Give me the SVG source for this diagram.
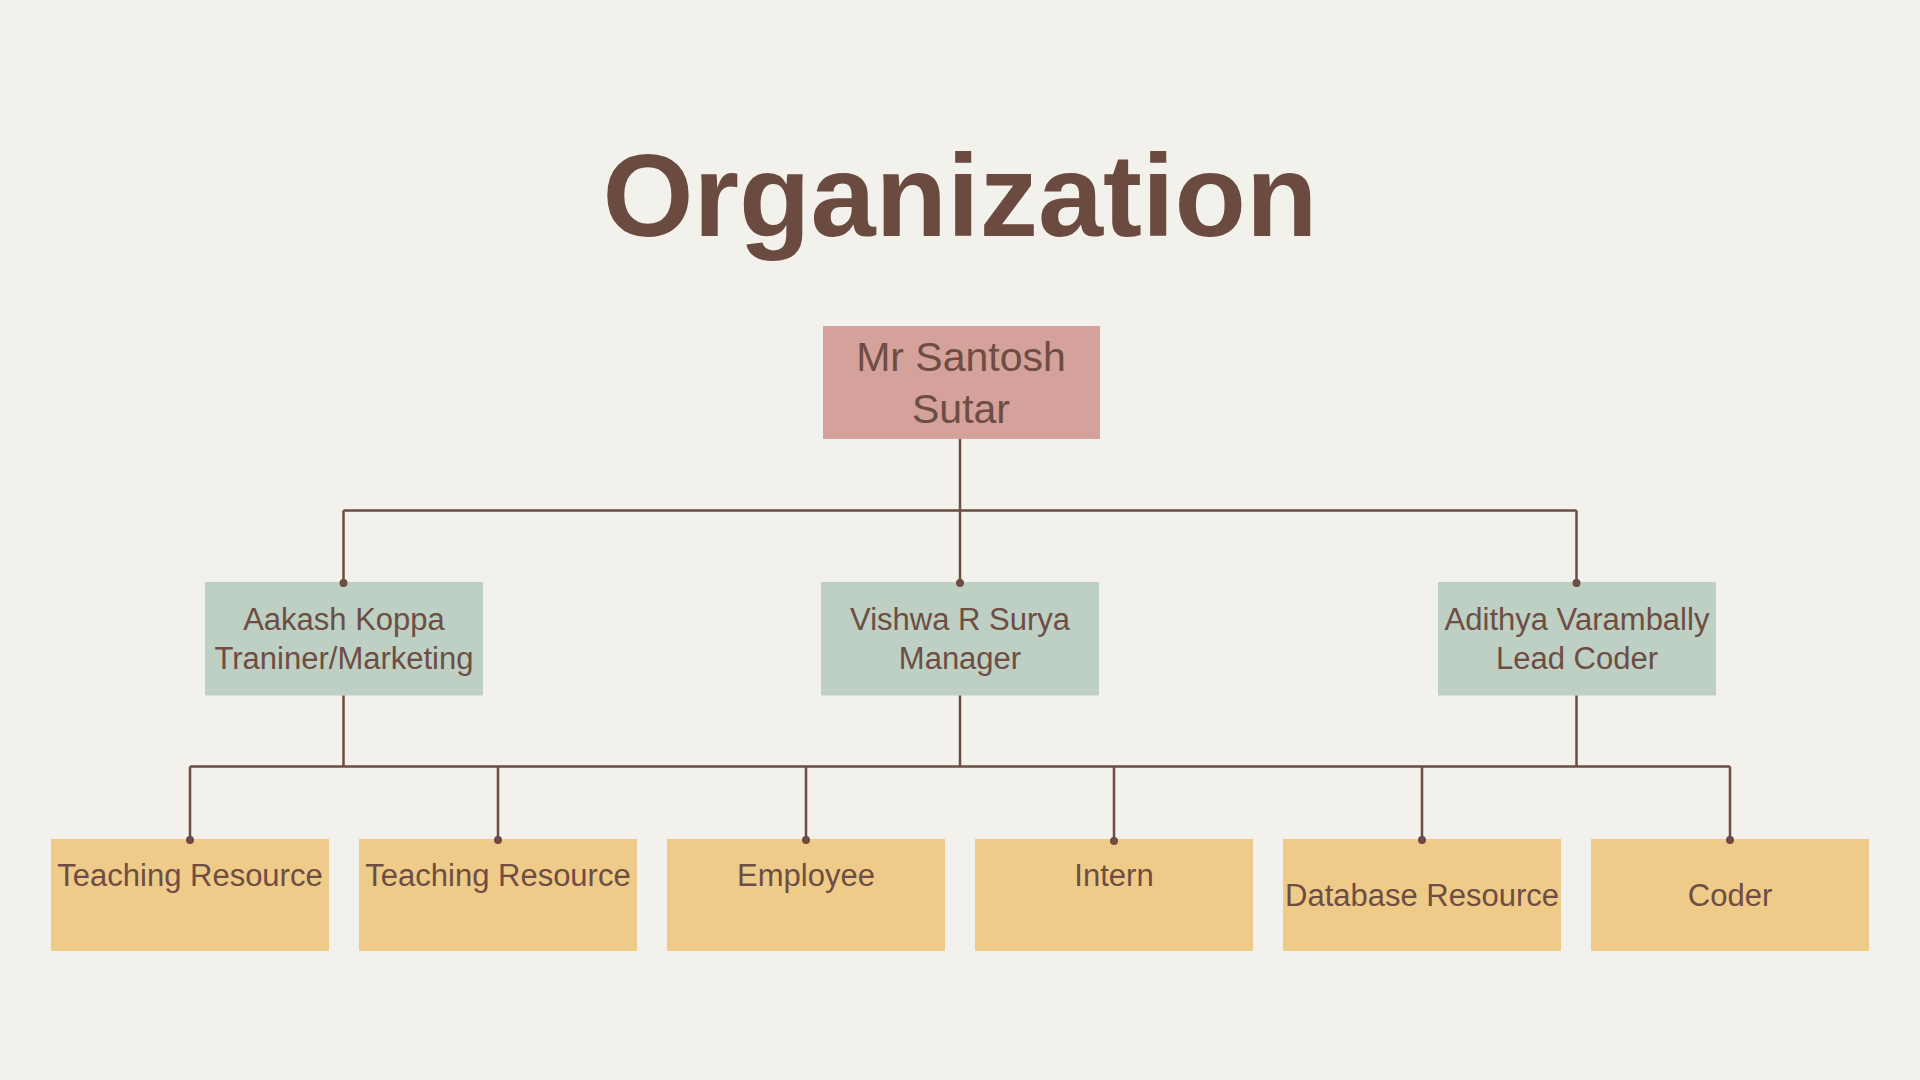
<svg xmlns="http://www.w3.org/2000/svg" width="1920" height="1080" viewBox="0 0 1920 1080">
  <defs>
    <style>
      .title { font-family: "Liberation Sans", Arial, sans-serif; font-weight: bold; font-size: 117px; fill: #6b4a40; }
      .lbl { font-family: "Liberation Sans", Arial, sans-serif; font-size: 31px; fill: #6e4d43; text-anchor: middle; }
      .lbl-top { font-family: "Liberation Sans", Arial, sans-serif; font-size: 41px; fill: #6e4d43; text-anchor: middle; }
      .top { fill: #d4a19b; }
      .mid { fill: #bdd0c3; }
      .bot { fill: #eecb89; }
      .conn { stroke: #6d4c41; stroke-width: 2.5; fill: none; }
      .dot { fill: #6d4c41; }
    </style>
  </defs>
  <rect width="1920" height="1080" fill="#f3f1ec"/>
  <text class="title" x="960" y="236" text-anchor="middle">Organization</text>

  <g id="santosh">
    <rect class="top" x="823" y="326" width="277" height="113"/>
    <text class="lbl-top" x="961" y="371">Mr Santosh</text>
    <text class="lbl-top" x="961" y="423">Sutar</text>
  </g>

  <g id="aakash">
    <rect class="mid" x="205" y="582" width="278" height="113.5"/>
    <text class="lbl" x="344" y="630">Aakash Koppa</text>
    <text class="lbl" x="344" y="669">Traniner/Marketing</text>
  </g>
  <g id="vishwa">
    <rect class="mid" x="821" y="582" width="278" height="113.5"/>
    <text class="lbl" x="960" y="630">Vishwa R Surya</text>
    <text class="lbl" x="960" y="669">Manager</text>
  </g>
  <g id="adithya">
    <rect class="mid" x="1438" y="582" width="278" height="113.5"/>
    <text class="lbl" x="1577" y="630">Adithya Varambally</text>
    <text class="lbl" x="1577" y="669">Lead Coder</text>
  </g>

  <g id="teaching1">
    <rect class="bot" x="51" y="839" width="278" height="112"/>
    <text class="lbl" x="190" y="886">Teaching Resource</text>
  </g>
  <g id="teaching2">
    <rect class="bot" x="359" y="839" width="278" height="112"/>
    <text class="lbl" x="498" y="886">Teaching Resource</text>
  </g>
  <g id="employee">
    <rect class="bot" x="667" y="839" width="278" height="112"/>
    <text class="lbl" x="806" y="886">Employee</text>
  </g>
  <g id="intern">
    <rect class="bot" x="975" y="839" width="278" height="112"/>
    <text class="lbl" x="1114" y="886">Intern</text>
  </g>
  <g id="database">
    <rect class="bot" x="1283" y="839" width="278" height="112"/>
    <text class="lbl" x="1422" y="906">Database Resource</text>
  </g>
  <g id="coder">
    <rect class="bot" x="1591" y="839" width="278" height="112"/>
    <text class="lbl" x="1730" y="906">Coder</text>
  </g>

  <g id="connectors">
    <path class="conn" d="M960 439 V510.5 M343.5 510.5 H1576.5 M343.5 510.5 V583 M960 510.5 V583 M1576.5 510.5 V583"/>
    <circle class="dot" cx="343.5" cy="583" r="4"/>
    <circle class="dot" cx="960" cy="583" r="4"/>
    <circle class="dot" cx="1576.5" cy="583" r="4"/>
    <path class="conn" d="M343.5 695.5 V766.5 M960 695.5 V766.5 M1576.5 695.5 V766.5 M190 766.5 H1730 M190 766.5 V840 M498 766.5 V840 M806 766.5 V840 M1114 766.5 V840 M1422 766.5 V840 M1730 766.5 V840"/>
    <circle class="dot" cx="190" cy="840" r="4"/>
    <circle class="dot" cx="498" cy="840" r="4"/>
    <circle class="dot" cx="806" cy="840" r="4"/>
    <circle class="dot" cx="1114" cy="841" r="4"/>
    <circle class="dot" cx="1422" cy="840" r="4"/>
    <circle class="dot" cx="1730" cy="840" r="4"/>
  </g>
</svg>
